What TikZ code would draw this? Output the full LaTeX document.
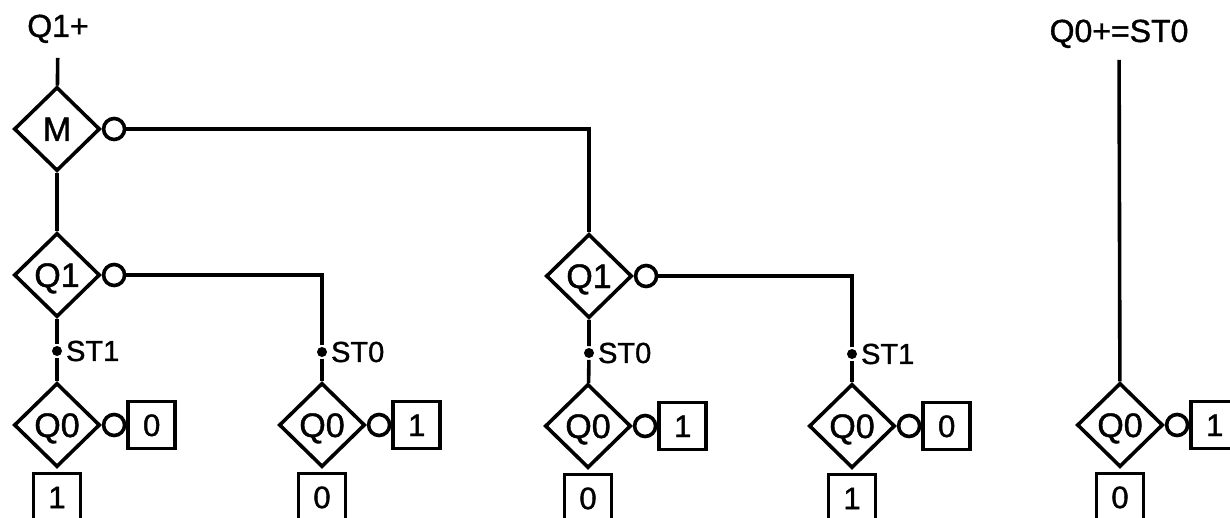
\documentclass[tikz,border=0pt]{standalone}
\usepackage{fontspec}
\setmainfont{Liberation Sans}[FakeBold=1.2]
\usetikzlibrary{shapes.geometric,positioning}

\begin{document}
\begin{tikzpicture}[
  x=1pt, y=-1pt, line width=3.6pt,
  test/.style={draw, diamond, minimum width=86pt, minimum height=84pt, inner sep=0pt, text height=24pt, text depth=0pt, font=\fontsize{34}{34}\selectfont},
  neg/.style={draw, circle, minimum size=21pt, inner sep=0pt},
  leaf/.style={draw, minimum size=47pt, inner sep=0pt, text height=22pt, text depth=0pt, font=\fontsize{31}{31}\selectfont},
  tap/.style={fill, circle, minimum size=10pt, inner sep=0pt},
  st/.style={font=\fontsize{29}{29}\selectfont, inner sep=0.5pt},
  head/.style={font=\fontsize{32}{32}\selectfont, inner sep=10pt, anchor=base}
]
\useasboundingbox (0,0) rectangle (1230,518);
\clip (0,0) rectangle (1230,518);
% next-state outputs
\node[head] (q1p) at (58,37) {Q1+};
\node[head] (q0p) at (1119,42) {Q0+=ST0};
% decision diamonds
\node[test] (M) at (57,129) {M};
\node[test] (q1a) at (57,275) {Q1};
\node[test] (q1b) at (589,276) {Q1};
\node[test] (q0a) at (57,425) {Q0};
\node[test] (q0b) at (322,425) {Q0};
\node[test] (q0c) at (588,426) {Q0};
\node[test] (q0d) at (852,426) {Q0};
\node[test] (q0e) at (1120,425) {Q0};
% negated (0) branches
\node[neg, right=0pt of M] (nM) {};
\node[neg, right=0pt of q1a] (nq1a) {};
\node[neg, right=0pt of q1b] (nq1b) {};
\node[neg, right=0pt of q0a] (nq0a) {};
\node[neg, right=0pt of q0b] (nq0b) {};
\node[neg, right=0pt of q0c] (nq0c) {};
\node[neg, right=0pt of q0d] (nq0d) {};
\node[neg, right=0pt of q0e] (nq0e) {};
% state taps
\node[tap, label={[st]right:ST1}] (sA) at (57,351) {};
\node[tap, label={[st]right:ST0}] (sB) at (322,352) {};
\node[tap, label={[st]right:ST0}] (sC) at (589,353) {};
\node[tap, label={[st]right:ST1}] (sD) at (852,354) {};
% leaves: right = 0 branch, below = 1 branch
\node[leaf, right=0pt of nq0a] (la0) {0};
\node[leaf, below=3pt of q0a] (la1) {1};
\node[leaf, right=0pt of nq0b] (lb0) {1};
\node[leaf, below=3pt of q0b] (lb1) {0};
\node[leaf, right=0pt of nq0c] (lc0) {1};
\node[leaf, below=3pt of q0c] (lc1) {0};
\node[leaf, right=0pt of nq0d] (ld0) {0};
\node[leaf, below=3pt of q0d] (ld1) {1};
\node[leaf, right=0pt of nq0e] (le0) {1};
\node[leaf, below=3pt of q0e] (le1) {0};
% wires
\draw[shorten <=3pt] (q1p) -- (M);
\draw (M) -- (q1a);
\draw (nM.east) -| (q1b.north);
\draw (q1a) -- (sA) -- (q0a);
\draw (nq1a.east) -| (sB);
\draw (sB) -- (q0b);
\draw (q1b) -- (sC) -- (q0c);
\draw (nq1b.east) -| (sD);
\draw (sD) -- (q0d);
\draw (q0p) -- (q0e);
\end{tikzpicture}
\end{document}
